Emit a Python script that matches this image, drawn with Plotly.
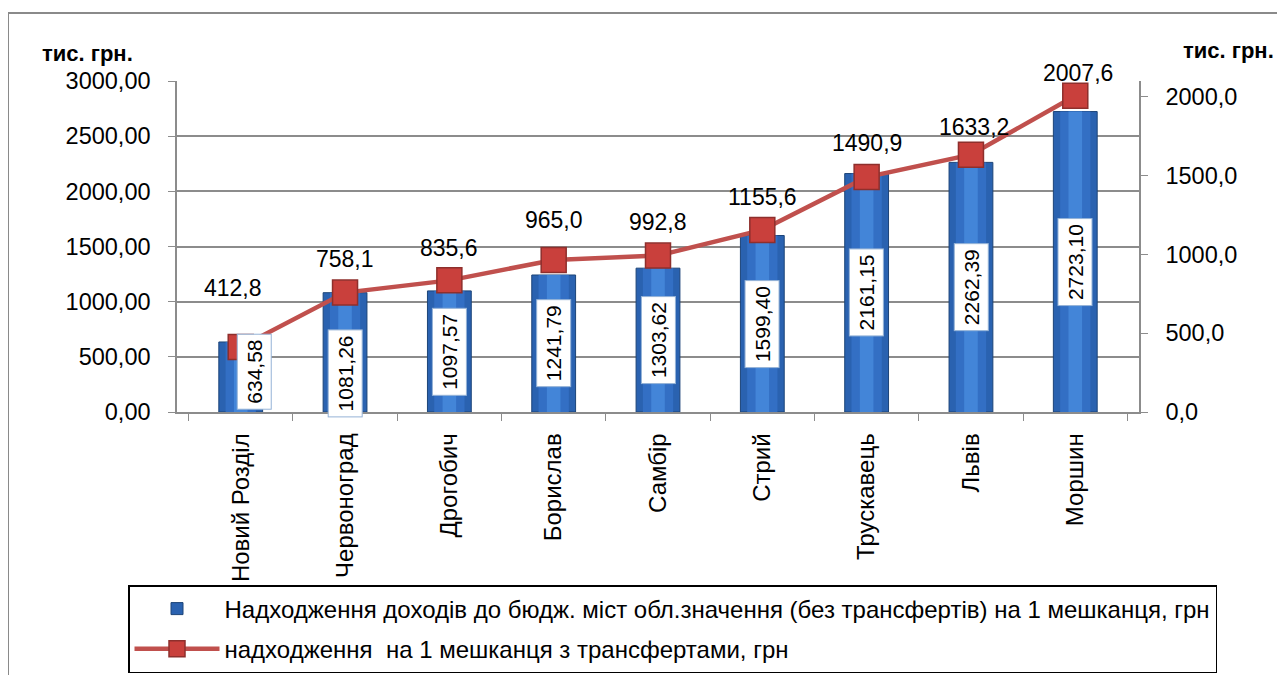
import plotly.graph_objects as go

# дані
cities = ["Новий Розділ", "Червоноград", "Дрогобич", "Борислав", "Самбір",
          "Стрий", "Трускавець", "Львів", "Моршин"]
income_no_transfers = [634.58, 1081.26, 1097.57, 1241.79, 1303.62,
                       1599.40, 2161.15, 2262.39, 2723.10]
income_with_transfers = [412.8, 758.1, 835.6, 965.0, 992.8,
                         1155.6, 1490.9, 1633.2, 2007.6]

bar_name = "Надходження доходів до бюдж. міст обл.значення (без трансфертів) на 1 мешканця, грн"
line_name = "надходження  на 1 мешканця з трансфертами, грн"

# зміщення підписів (px) — як у вихідній діаграмі
line_label_dy = [59, 34, 32, 40, 34, 33, 34, 28, 23]
line_label_dx = [-8, 0, 0, 0, 0, 0, 0, 3, 3]
bar_label_dx = [14, 0, 0, 0, 0, 0, 0, 0, 0]
bar_label_dy = [5, -21, 0, 0, 0, 0, 0, 0, 0]

FONT = "Liberation Sans, Arial, sans-serif"
GRAY = "#8C8C8C"

# сторінка має відступ 8px, тому полотно менше на 8px
OFF = 8
PX_L, PX_R, PX_T, PX_B = 177, 1139, 81, 412
W = PX_R - PX_L
H = PX_B - PX_T


def px_x(v):
    return (v - PX_L) / W


def px_y(v):
    return (PX_B - v) / H


fig = go.Figure()

# стовпці з імітацією циліндричного заливання
fig.add_trace(go.Bar(
    x=cities, y=income_no_transfers, name=bar_name, width=0.42,
    marker=dict(color="#2A62B0", line=dict(color="#1C4478", width=1)),
    legendgroup="a", hoverinfo="skip"))
fig.add_trace(go.Bar(
    x=cities, y=income_no_transfers, width=0.29, showlegend=False,
    marker=dict(color="#336FC4", line=dict(width=0)), hoverinfo="skip"))
fig.add_trace(go.Bar(
    x=cities, y=income_no_transfers, width=0.13, showlegend=False,
    marker=dict(color="#4385D8", line=dict(width=0)), hoverinfo="skip"))

fig.add_trace(go.Scatter(
    x=cities, y=income_with_transfers, name=line_name, yaxis="y2",
    mode="lines+markers", legendgroup="b",
    line=dict(color="#C0504D", width=4.5),
    marker=dict(symbol="square", size=25, color="#C9403C",
                line=dict(color="#8E2F2C", width=1.5))))

annotations = []
for i, c in enumerate(cities):
    annotations.append(dict(
        x=c, y=income_no_transfers[i] / 2, xref="x", yref="y",
        text=f"{income_no_transfers[i]:.2f}".replace(".", ","),
        textangle=-90, showarrow=False,
        font=dict(family=FONT, size=21, color="black"),
        bgcolor="white", bordercolor="#95B3D7", borderwidth=1, borderpad=5,
        xshift=bar_label_dx[i], yshift=bar_label_dy[i]))
    annotations.append(dict(
        x=c, y=income_with_transfers[i], xref="x", yref="y2",
        text=f"{income_with_transfers[i]:.1f}".replace(".", ","),
        showarrow=False, font=dict(family=FONT, size=23, color="black"),
        xshift=line_label_dx[i], yshift=line_label_dy[i]))

for tx, ty, anchor in [(40, 53, "left"), (1276, 50, "right")]:
    annotations.append(dict(
        x=px_x(tx), y=px_y(ty), xref="paper", yref="paper",
        xanchor=anchor, yanchor="middle", text="<b>тис. грн.</b>",
        showarrow=False, font=dict(family=FONT, size=22, color="black")))

shapes = [
    dict(type="line", xref="paper", yref="paper",
         x0=px_x(8), x1=px_x(8), y0=px_y(13), y1=px_y(690),
         line=dict(color="#8A8A8A", width=2)),
    dict(type="line", xref="paper", yref="paper",
         x0=px_x(8), x1=px_x(1300), y0=px_y(13), y1=px_y(13),
         line=dict(color="#8A8A8A", width=2)),
]

fig.update_layout(
    width=1285 - OFF, height=675 - OFF,
    margin=dict(l=PX_L - OFF, r=1285 - PX_R, t=PX_T - OFF, b=675 - PX_B,
                autoexpand=False),
    paper_bgcolor="white", plot_bgcolor="white",
    separators=", ",
    barmode="overlay",
    font=dict(family=FONT, size=23, color="black"),
    xaxis=dict(
        showline=True, linecolor=GRAY, linewidth=1.5,
        ticks="outside", tickson="boundaries", ticklen=7, tickcolor=GRAY,
        tickangle=-90, tickfont=dict(size=24), ticklabelstandoff=10,
        showgrid=False),
    yaxis=dict(
        range=[0, 3000], dtick=500, tickformat=".2f",
        showline=True, linecolor=GRAY, linewidth=1.5,
        ticks="outside", ticklen=7, tickcolor=GRAY,
        showgrid=True, gridcolor=GRAY, gridwidth=1.5,
        tickfont=dict(size=23.5), ticklabelstandoff=13, zeroline=False),
    yaxis2=dict(
        overlaying="y", side="right", range=[0, 2101], dtick=500,
        tickformat=".1f", showline=True, linecolor=GRAY, linewidth=1.5,
        ticks="outside", ticklen=7, tickcolor=GRAY, showgrid=False,
        tickfont=dict(size=23.5), ticklabelstandoff=13, zeroline=False),
    legend=dict(
        x=px_x(128), y=px_y(585), xanchor="left", yanchor="top",
        bordercolor="black", borderwidth=1.5, bgcolor="white",
        font=dict(size=24), itemwidth=85, tracegroupgap=6,
        traceorder="grouped"),
    annotations=annotations,
    shapes=shapes,
)

fig.write_html("out.html")
